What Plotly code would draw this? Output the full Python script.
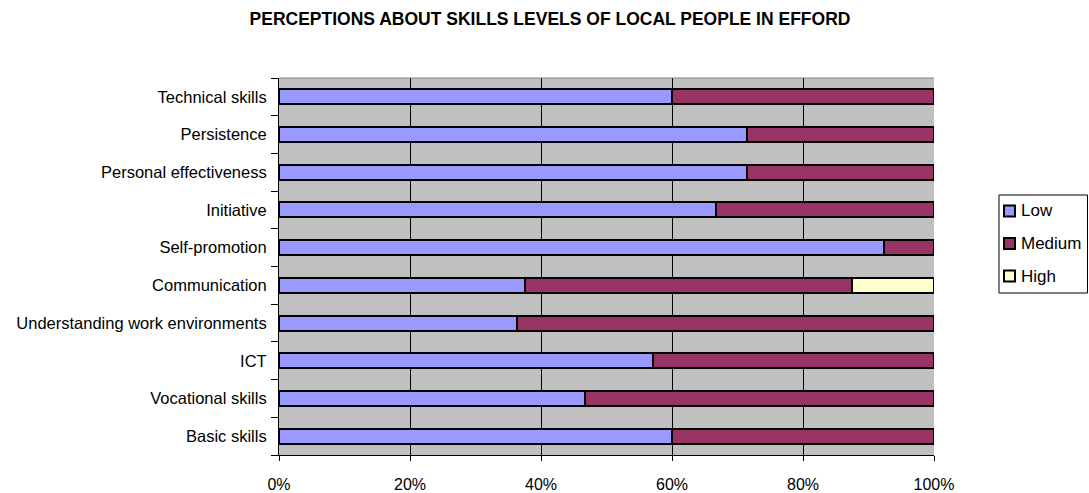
import plotly.graph_objects as go

categories = ["Basic skills", "Vocational skills", "ICT", "Understanding work environments",
              "Communication", "Self-promotion", "Initiative", "Personal effectiveness",
              "Persistence", "Technical skills"]
low = [60.0, 46.7, 57.1, 36.4, 37.5, 92.3, 66.7, 71.4, 71.4, 60.0]
medium = [40.0, 53.3, 42.9, 63.6, 50.0, 7.7, 33.3, 28.6, 28.6, 40.0]
high = [0, 0, 0, 0, 12.5, 0, 0, 0, 0, 0]
series_names = ["Low", "Medium", "High"]
series_colors = ["#9999FF", "#993366", "#FFFFCC"]
tick_vals = [0, 20, 40, 60, 80, 100]
tick_text = ["0%", "20%", "40%", "60%", "80%", "100%"]

font_family = "Liberation Sans, Arial, sans-serif"

W, H = 1089, 493
# plot area edges in window pixels
L, R, T, B = 279, 934, 78, 455


def px_x(px):
    return (px - L) / (R - L)


def px_y(py):
    return (B - py) / (B - T)


fig = go.Figure()
for name, vals, color in zip(series_names, [low, medium, high], series_colors):
    fig.add_trace(go.Bar(
        y=categories, x=vals, name=name, orientation="h",
        marker=dict(color=color, line=dict(color="black", width=2)),
        showlegend=False,
    ))

# manual legend (box, swatches, labels)
shapes = [dict(type="rect", xref="paper", yref="paper",
               x0=px_x(999), x1=px_x(1087.5), y0=px_y(293), y1=px_y(195),
               line=dict(color="black", width=1), fillcolor="white")]
annotations = []
for i, (name, color) in enumerate(zip(series_names, series_colors)):
    cy = 211 + i * 32.5
    shapes.append(dict(type="rect", xref="paper", yref="paper",
                       x0=px_x(1004), x1=px_x(1015), y0=px_y(cy + 5.5), y1=px_y(cy - 5.5),
                       line=dict(color="black", width=2), fillcolor=color))
    annotations.append(dict(text=name, xref="paper", yref="paper", x=px_x(1019), y=px_y(cy),
                            xanchor="left", yanchor="middle", showarrow=False,
                            font=dict(size=17, family=font_family, color="black")))
# top border of plot area
shapes.append(dict(type="line", xref="paper", yref="paper", x0=0, x1=1, y0=1, y1=1,
                   line=dict(color="#808080", width=1)))

fig.update_layout(
    width=W, height=H,
    barmode="stack", bargap=0.6,
    paper_bgcolor="white", plot_bgcolor="#C0C0C0",
    margin=dict(l=L, r=W - R, t=T, b=H - B, autoexpand=False),
    font=dict(family=font_family, size=16.5, color="black"),
    title=dict(text="<b>PERCEPTIONS ABOUT SKILLS LEVELS OF LOCAL PEOPLE IN EFFORD</b>",
               x=550 / W, xref="container", xanchor="center",
               y=1 - 19 / H, yanchor="middle",
               font=dict(size=17.5, family=font_family)),
    showlegend=False,
    shapes=shapes,
    annotations=annotations,
)
fig.update_xaxes(range=[0, 100], tickvals=tick_vals, ticktext=tick_text,
                 showgrid=True, gridcolor="black", gridwidth=1,
                 ticks="outside", ticklen=5, tickcolor="black",
                 showline=True, linecolor="black", linewidth=1,
                 ticklabelstandoff=10, zeroline=False, automargin=False,
                 tickfont=dict(size=16))
fig.update_yaxes(ticks="outside", ticklen=7, tickcolor="black", tickson="boundaries",
                 showline=True, linecolor="black", linewidth=1, automargin=False,
                 showgrid=False, ticklabelstandoff=8, tickfont=dict(size=16.5))

fig.write_html(
    "out.html",
    config={"displayModeBar": False},
    post_script="document.body.style.margin='0';document.body.style.overflow='hidden';",
)
